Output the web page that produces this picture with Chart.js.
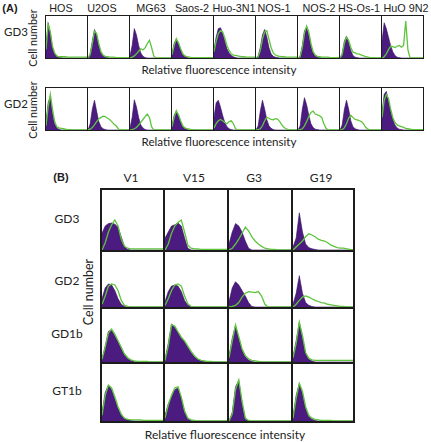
<!DOCTYPE html>
<html>
<head>
<meta charset="utf-8">
<script src="https://cdn.jsdelivr.net/npm/chart.js@4"></script>
<style>
  body { margin: 0; background: #fff; }
  #fig { position: relative; width: 431px; height: 442px; overflow: hidden; font-family: Lato, sans-serif; color: #222; }
  .t { position: absolute; white-space: nowrap; transform: translate(-50%, -50%); line-height: 1; }
  .rot { transform: translate(-50%, -50%) rotate(-90deg); }
  .box { position: absolute; box-sizing: border-box; background: #fff; }
  .box canvas { position: absolute; left: 0; top: 0; }
</style>
</head>
<body>
<div id="fig"></div>
<script>
// histogram bins (relative fluorescence, 20 channels)
const bins = [0,1,2,3,4,5,6,7,8,9,10,11,12,13,14,15,16,17,18,19];

/* ================= PANEL A ================= */
const cellLinesA = ["HOS", "U2OS", "MG63", "Saos-2", "Huo-3N1", "NOS-1", "NOS-2", "HS-Os-1", "HuO 9N2"];
const rowsA = ["GD3", "GD2"];

// isotype control (purple) and ganglioside stain (green), cell number in % of box
const controlA_GD3 = [
  [30,84,60,25,10,4,2,1,0,0,0,0,0,0,0,0,0,0,0,0],
  [0,10,40,68,55,30,12,5,2,1,0,0,0,0,0,0,0,0,0,0],
  [5,30,70,55,30,12,4,1,0,0,0,0,0,0,0,0,0,0,0,0],
  [10,35,45,35,20,8,3,1,0,0,0,0,0,0,0,0,0,0,0,0],
  [20,50,70,72,60,40,22,12,6,3,1,0,0,0,0,0,0,0,0,0],
  [0,5,25,55,68,50,25,10,4,2,1,0,0,0,0,0,0,0,0,0],
  [0,5,30,65,72,55,28,12,5,2,1,0,0,0,0,0,0,0,0,0],
  [0,10,40,52,38,18,6,2,1,0,0,0,0,0,0,0,0,0,0,0],
  [40,84,70,50,30,15,6,2,1,0,0,0,0,0,0,0,0,0,0,0]
];
const stainA_GD3 = [
  [20,80,62,28,12,5,3,3,3,3,2,2,2,2,2,2,2,2,2,2],
  [0,8,35,64,58,34,15,7,4,3,2,2,2,1,1,1,1,1,1,1],
  [0,2,5,10,16,22,19,24,34,42,25,5,0,0,0,0,0,0,0,0],
  [8,30,46,36,22,10,5,3,2,1,1,1,1,1,1,1,1,1,1,1],
  [15,40,58,65,62,48,30,18,10,7,6,5,4,3,3,2,2,2,2,2],
  [0,3,18,45,62,65,45,25,12,7,5,4,3,3,2,2,2,2,2,2],
  [0,3,25,60,76,62,35,15,7,4,3,2,2,2,2,1,1,1,1,1],
  [0,8,35,50,42,25,14,12,10,9,7,5,3,2,1,1,1,0,0,0],
  [0,3,10,20,28,27,25,28,30,26,30,88,20,0,0,0,0,0,0,0]
];
const controlA_GD2 = [
  [20,65,80,40,15,5,2,0,0,0,0,0,0,0,0,0,0,0,0,0],
  [0,15,50,71,45,20,8,3,1,0,0,0,0,0,0,0,0,0,0,0],
  [5,30,72,55,30,12,5,1,0,0,0,0,0,0,0,0,0,0,0,0],
  [10,35,45,35,20,8,3,1,0,0,0,0,0,0,0,0,0,0,0,0],
  [30,65,71,55,35,18,8,3,1,0,0,0,0,0,0,0,0,0,0,0],
  [0,10,45,71,50,25,10,4,1,0,0,0,0,0,0,0,0,0,0,0],
  [0,10,50,77,60,35,15,6,2,1,0,0,0,0,0,0,0,0,0,0],
  [0,12,48,71,50,22,8,3,1,0,0,0,0,0,0,0,0,0,0,0],
  [40,85,92,70,45,25,12,5,2,1,0,0,0,0,0,0,0,0,0,0]
];
const stainA_GD2 = [
  [10,55,85,50,20,8,5,4,3,2,1,1,0,0,0,0,0,0,0,0],
  [0,2,6,12,20,26,30,33,32,28,25,20,14,10,3,0,0,0,0,0],
  [0,1,3,6,12,18,25,32,38,30,8,0,0,0,0,0,0,0,0,0],
  [8,30,46,36,22,10,5,3,2,1,1,0,0,0,0,0,0,0,0,0],
  [5,15,22,25,22,18,15,20,22,15,3,0,0,0,0,0,0,0,0,0],
  [0,1,3,10,22,30,28,25,24,27,26,20,12,6,3,1,0,0,0,0],
  [0,1,3,10,20,32,42,45,38,36,34,30,15,4,0,0,0,0,0,0],
  [0,1,5,15,28,35,30,25,24,22,20,14,6,2,0,0,0,0,0,0],
  [30,70,85,75,50,30,18,12,10,8,6,4,3,2,1,1,1,1,1,1]
];

/* ================= PANEL B ================= */
const clonesB = ["V1", "V15", "G3", "G19"];
const rowsB = ["GD3", "GD2", "GD1b", "GT1b"];

const controlB = [
  [ // GD3
    [28,40,44,45,43,38,22,6,1,0,0,0,0,0,0,0,0,0,0,0],
    [20,30,40,42,45,40,20,3,0,0,0,0,0,0,0,0,0,0,0,0],
    [10,30,44,40,30,15,3,0,0,0,0,0,0,0,0,0,0,0,0,0],
    [5,20,62,30,10,4,2,1,0,0,0,0,0,0,0,0,0,0,0,0]
  ],
  [ // GD2
    [15,35,42,40,30,15,5,1,0,0,0,0,0,0,0,0,0,0,0,0],
    [10,28,38,40,38,28,12,3,1,0,0,0,0,0,0,0,0,0,0,0],
    [10,35,46,40,30,20,8,1,0,0,0,0,0,0,0,0,0,0,0,0],
    [5,25,57,25,8,3,1,0,0,0,0,0,0,0,0,0,0,0,0,0]
  ],
  [ // GD1b
    [5,30,58,60,50,38,25,14,6,3,1,0,0,0,0,0,0,0,0,0],
    [5,35,72,65,55,45,38,28,18,10,5,3,1,0,0,0,0,0,0,0],
    [10,45,69,45,22,10,4,1,0,0,0,0,0,0,0,0,0,0,0,0],
    [10,40,75,45,15,5,2,0,0,0,0,0,0,0,0,0,0,0,0,0]
  ],
  [ // GT1b
    [15,50,63,55,40,22,10,4,2,1,0,0,0,0,0,0,0,0,0,0],
    [10,30,42,55,58,40,15,3,1,0,0,0,0,0,0,0,0,0,0,0],
    [0,15,60,71,30,3,0,0,0,0,0,0,0,0,0,0,0,0,0,0],
    [8,45,66,48,22,8,3,1,0,0,0,0,0,0,0,0,0,0,0,0]
  ]
];
const stainB = [
  [ // GD3
    [0,12,30,42,50,40,18,6,3,2,2,2,2,2,2,2,2,2,2,2],
    [0,10,28,40,46,50,30,8,3,2,2,1,1,1,1,1,1,1,1,1],
    [0,3,10,18,28,38,32,22,15,10,6,3,2,1,1,0,0,0,0,0],
    [0,5,10,15,22,27,25,22,18,16,15,12,8,6,4,3,3,2,1,0]
  ],
  [ // GD2
    [5,20,38,42,40,30,12,3,1,0,0,0,0,0,0,0,0,0,0,0],
    [3,15,30,40,42,38,20,6,1,0,0,0,0,0,0,0,0,0,0,0],
    [0,1,3,8,18,25,28,27,26,28,20,5,0,0,0,0,0,0,0,0],
    [0,5,12,18,20,18,15,12,10,8,7,5,4,3,2,1,1,0,0,0]
  ],
  [ // GD1b
    [5,28,55,62,52,40,28,15,8,4,2,1,1,1,1,0,0,0,0,0],
    [3,30,70,68,57,47,40,30,20,12,6,3,2,1,1,0,0,0,0,0],
    [8,40,70,48,25,12,6,3,2,1,0,0,0,0,0,0,0,0,0,0],
    [8,35,75,50,18,7,4,3,3,3,3,3,3,3,3,3,3,3,3,3]
  ],
  [ // GT1b
    [10,45,63,58,42,25,12,5,3,2,2,2,2,1,1,1,1,1,1,1],
    [5,28,45,58,60,42,18,5,2,1,0,0,0,0,0,0,0,0,0,0],
    [0,12,55,72,35,5,1,0,0,0,0,0,0,0,0,0,0,0,0,0],
    [5,40,66,52,25,10,5,3,2,1,1,1,1,0,0,0,0,0,0,0]
  ]
];

/* ================= HELPERS ================= */
const fig = document.getElementById("fig");
const PURPLE = "#4b1b80";
const GREEN = "#5ec43c";

function text(str, x, y, size, opts = {}) {
  const d = document.createElement("div");
  d.className = "t" + (opts.rot ? " rot" : "");
  d.textContent = str;
  d.style.left = x + "px";
  d.style.top = y + "px";
  d.style.fontSize = size + "px";
  if (opts.font) d.style.fontFamily = opts.font;
  if (opts.bold) d.style.fontWeight = opts.bold;
  fig.appendChild(d);
}

function histo(x, y, w, h, bw, control, stain) {
  const box = document.createElement("div");
  box.className = "box";
  box.style.left = x + "px";
  box.style.top = y + "px";
  box.style.width = (w + bw) + "px";
  box.style.height = (h + bw) + "px";
  box.style.border = bw + "px solid #1c1c1c";
  const c = document.createElement("canvas");
  c.width = w - bw;
  c.height = h - bw;
  box.appendChild(c);
  fig.appendChild(box);
  new Chart(c, {
    type: "line",
    data: {
      labels: bins,
      datasets: [
        { data: stain, borderColor: GREEN, borderWidth: 1.3, pointRadius: 0, fill: false, tension: 0, order: 0 },
        { data: control, borderColor: "#35115e", borderWidth: 0.6, backgroundColor: PURPLE, fill: "origin", pointRadius: 0, tension: 0, order: 1 }
      ]
    },
    options: {
      responsive: false, animation: false, events: [],
      layout: { padding: 0 },
      plugins: { legend: { display: false }, tooltip: { enabled: false } },
      scales: { x: { display: false }, y: { display: false, min: 0, max: 100 } }
    }
  });
}

/* ================= DRAW A ================= */
const colXA = [45, 87, 129, 171, 213, 255, 297, 339, 381];
const labelXA = [61, 102, 151, 192, 234, 274, 319, 359, 406];
const rowYA = [15, 87];

text("(A)", 10, 8, 11, { bold: 700, font: "'Liberation Sans', Arial, sans-serif" });
cellLinesA.forEach((n, i) => text(n, labelXA[i], 8, 10.8, { font: "'Liberation Sans', Arial, sans-serif" }));

[[controlA_GD3, stainA_GD3], [controlA_GD2, stainA_GD2]].forEach(([ctl, stn], r) => {
  const y0 = rowYA[r];
  text(rowsA[r], 16, y0 + 17, 11.5);
  text("Cell number", 33, y0 + 23, 10.8, { rot: true });
  text("Relative fluorescence intensity", 219, y0 + 55, 11.6);
  colXA.forEach((x, i) => histo(x, y0, 42, 43, 1, ctl[i], stn[i]));
});

/* ================= DRAW B ================= */
const colXB = [100, 163, 227, 291, 353];
const labelXB = [131, 194, 254, 321];
const rowYB = [188, 250, 307, 362, 421];
const labelYB = [219, 281, 334, 391];

text("(B)", 61, 177, 11, { bold: 700, font: "'Liberation Sans', Arial, sans-serif" });
clonesB.forEach((n, i) => text(n, labelXB[i], 178, 12));
rowsB.forEach((n, r) => {
  text(n, 67, labelYB[r], 12);
  clonesB.forEach((_, i) =>
    histo(colXB[i], rowYB[r], colXB[i + 1] - colXB[i], rowYB[r + 1] - rowYB[r], 2, controlB[r][i], stainB[r][i]));
});
text("Cell number", 89, 292, 12.5, { rot: true });
text("Relative fluorescence intensity", 225, 435, 12);
</script>
</body>
</html>
